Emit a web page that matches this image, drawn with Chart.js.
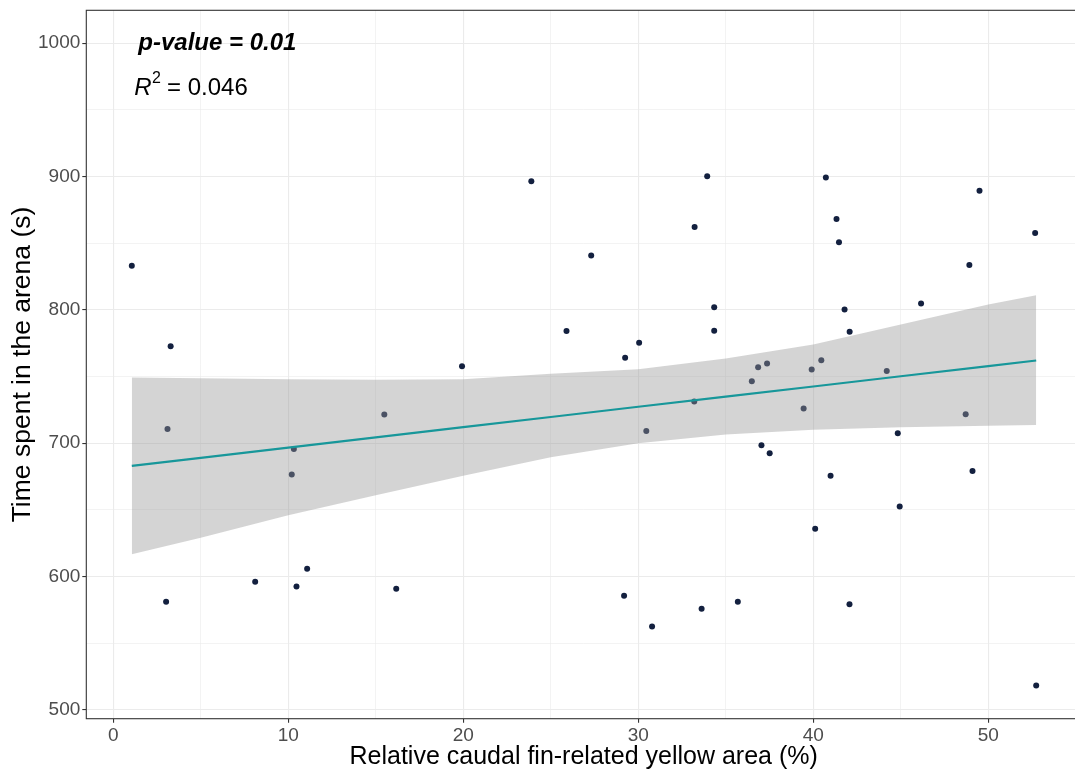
<!DOCTYPE html>
<html>
<head>
<meta charset="utf-8">
<title>Yellow area vs time in arena</title>
<script src="https://cdn.jsdelivr.net/npm/chart.js@4.4.1/dist/chart.umd.min.js"></script>
<style>
  html, body { margin: 0; padding: 0; background: #ffffff; }
  #wrap { width: 1075px; height: 773px; overflow: hidden; position: relative; }
  #plot { display: block; }
</style>
</head>
<body>
<div id="wrap"><canvas id="plot" width="1085" height="773"></canvas></div>
<script>
// Observations: relative caudal fin-related yellow area (%) and time spent in the arena (s)
const yellowArea = [
  1.06, 3.28, 3.10, 10.32, 10.20, 3.02, 8.11, 10.47, 11.08, 23.89,
  27.31, 25.90, 30.05, 29.25, 19.93, 33.22, 33.94, 33.20, 15.49, 16.17,
  30.46, 29.19, 30.79, 33.62, 40.72, 41.33, 41.47, 49.50, 52.68, 48.92,
  34.34, 34.34, 41.79, 42.08, 46.16, 36.49, 36.85, 37.36, 39.91, 40.46,
  44.20, 39.45, 48.71, 44.83, 37.04, 37.51, 40.99, 49.10, 44.94, 40.11,
  35.69, 42.07, 52.74
];
const arenaTime = [
  833, 772.7, 710.7, 695.7, 676.4, 581, 596, 592.4, 605.7, 896.5,
  840.7, 784.2, 775.4, 764, 757.7, 862.2, 900.2, 731.2, 721.5, 590.7,
  709.2, 585.5, 562.5, 575.7, 899.2, 868.2, 850.7, 889.4, 857.7, 833.7,
  802, 784.4, 800.2, 783.5, 804.7, 746.5, 757, 759.7, 755.2, 762.2,
  754.2, 726, 721.7, 707.5, 698.5, 692.5, 675.5, 679.2, 652.5, 635.7,
  581, 579.2, 518.2
];

// Linear fit with its 95% confidence band
const fitX     = [1.06, 5, 10, 15, 20, 25, 30, 35, 40, 45, 50, 52.74];
const fitY     = [683, 689, 696.7, 704.3, 712, 719.6, 727.3, 734.9, 742.5, 750.2, 757.8, 762];
const bandHigh = [749.2, 748.7, 748, 747.6, 748, 752, 755.5, 763.5, 774, 789, 804, 811];
const bandLow  = [616.7, 629, 646, 661, 675.5, 689.5, 700, 706.5, 710, 712, 713, 713.7];

// Axis ranges and tick steps
const xRange = [-1.54, 55.3];
const yRange = [493.3, 1024.7];
const xMajor = 10, xMinor = 5;
const yMajor = 100, yMinor = 50;

// Text annotations (anchored in data coordinates, centred)
const pLabel = { x: 5.95, y: 1000, text: 'p-value = 0.01' };
const rLabel = { x: 4.44, y: 966.2, value: '0.046' };

const FONT = '"Liberation Sans", Arial, sans-serif';

const pairs = (xs, ys) => xs.map((x, i) => ({ x: x, y: ys[i] }));

const panelPlugin = {
  id: 'panel',
  afterDatasetsDraw(chart) {
    const { ctx, chartArea: a, scales } = chart;
    // panel border
    ctx.save();
    ctx.strokeStyle = '#333333';
    ctx.lineWidth = 1.1;
    ctx.strokeRect(a.left, a.top, a.right - a.left, a.bottom - a.top);
    ctx.restore();

    // p-value annotation
    ctx.save();
    ctx.fillStyle = '#000000';
    ctx.textBaseline = 'middle';
    ctx.font = 'italic bold 24px ' + FONT;
    const w = ctx.measureText(pLabel.text).width;
    ctx.fillText(pLabel.text, scales.x.getPixelForValue(pLabel.x) - w / 2, scales.y.getPixelForValue(pLabel.y));

    // R^2 annotation
    const fR = 'italic 24px ' + FONT, fSup = '16px ' + FONT, fRest = '24px ' + FONT;
    const rest = ' = ' + rLabel.value;
    ctx.font = fR; const wR = ctx.measureText('R').width;
    ctx.font = fSup; const wS = ctx.measureText('2').width;
    ctx.font = fRest; const wT = ctx.measureText(rest).width;
    const total = wR + wS + wT;
    const x0 = scales.x.getPixelForValue(rLabel.x) - total / 2;
    const yc = scales.y.getPixelForValue(rLabel.y);
    ctx.font = fR; ctx.fillText('R', x0, yc);
    ctx.font = fSup; ctx.fillText('2', x0 + wR + 0.5, yc - 10);
    ctx.font = fRest; ctx.fillText(rest, x0 + wR + wS, yc);
    ctx.restore();
  }
};

const majorTest = (v, step) => Math.abs(v / step - Math.round(v / step)) < 1e-6;

new Chart(document.getElementById('plot'), {
  type: 'scatter',
  data: {
    datasets: [
      {
        label: 'fit',
        type: 'line',
        data: pairs(fitX, fitY),
        borderColor: '#17979a',
        borderWidth: 2.2,
        pointRadius: 0,
        fill: false
      },
      {
        label: 'upper',
        type: 'line',
        data: pairs(fitX, bandHigh),
        borderWidth: 0,
        borderColor: 'rgba(0,0,0,0)',
        pointRadius: 0,
        backgroundColor: 'rgba(153,153,153,0.42)',
        fill: '+1'
      },
      {
        label: 'lower',
        type: 'line',
        data: pairs(fitX, bandLow),
        borderWidth: 0,
        borderColor: 'rgba(0,0,0,0)',
        pointRadius: 0,
        fill: false
      },
      {
        label: 'observations',
        data: pairs(yellowArea, arenaTime),
        pointRadius: 3,
        pointBorderWidth: 0,
        backgroundColor: '#13203f',
        borderColor: '#13203f'
      }
    ]
  },
  options: {
    responsive: false,
    animation: false,
    devicePixelRatio: 1,
    layout: { padding: { top: 10.3, right: 1.7, left: 0, bottom: 0 } },
    plugins: { legend: { display: false }, tooltip: { enabled: false } },
    scales: {
      x: {
        type: 'linear',
        min: xRange[0],
        max: xRange[1],
        afterFit(s) { s.height = 54.3; s.paddingLeft = 0; s.paddingRight = 0; },
        border: { display: false },
        grid: {
          color: '#ebebeb',
          lineWidth: c => (c.tick && majorTest(c.tick.value, xMajor)) ? 1.1 : 0.6,
          tickColor: c => (c.tick && majorTest(c.tick.value, xMajor)) ? '#333333' : 'rgba(0,0,0,0)',
          tickWidth: 1.1,
          tickLength: 4
        },
        ticks: {
          stepSize: xMinor,
          includeBounds: false,
          autoSkip: false,
          maxRotation: 0,
          padding: 2,
          color: '#4d4d4d',
          font: { family: FONT, size: 19 },
          callback: v => majorTest(v, xMajor) ? String(v) : ''
        },
        title: {
          display: true,
          text: 'Relative caudal fin-related yellow area (%)',
          color: '#000000',
          font: { family: FONT, size: 25 },
          padding: { top: 0, bottom: 1 }
        }
      },
      y: {
        type: 'linear',
        min: yRange[0],
        max: yRange[1],
        afterFit(s) { s.width = 86.3; s.paddingTop = 0; s.paddingBottom = 0; },
        border: { display: false },
        grid: {
          color: '#ebebeb',
          lineWidth: c => (c.tick && majorTest(c.tick.value, yMajor)) ? 1.1 : 0.6,
          tickColor: c => (c.tick && majorTest(c.tick.value, yMajor)) ? '#333333' : 'rgba(0,0,0,0)',
          tickWidth: 1.1,
          tickLength: 4
        },
        ticks: {
          stepSize: yMinor,
          includeBounds: false,
          autoSkip: false,
          padding: 2,
          color: '#4d4d4d',
          font: { family: FONT, size: 19 },
          callback: v => majorTest(v, yMajor) ? String(v) : ''
        },
        title: {
          display: true,
          text: 'Time spent in the arena (s)',
          color: '#000000',
          font: { family: FONT, size: 26.5 },
          padding: { top: 7, bottom: 0 }
        }
      }
    }
  },
  plugins: [panelPlugin]
});
</script>
</body>
</html>
